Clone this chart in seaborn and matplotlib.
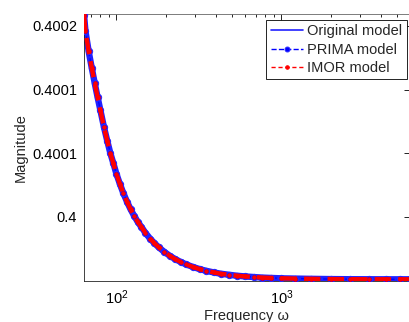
import matplotlib
matplotlib.use("Agg")
import matplotlib.pyplot as plt
import matplotlib.ticker as mticker
import seaborn as sns
import pandas as pd

# ---- data ----
frequency = [63.7, 65, 68, 71, 74, 77, 80, 84, 88, 92, 96, 100, 105, 110, 116, 122,
             128, 135, 142, 150, 160, 170, 180, 195, 210, 225, 245, 265, 290, 320,
             350, 390, 430, 480, 540, 600, 680, 760, 860, 1000, 1200, 1500, 2000,
             2600, 3400, 4300, 5200, 6000]
magnitude_original = [0.400209, 0.400196, 0.400180, 0.400167, 0.400155, 0.400144,
                      0.400134, 0.400121, 0.400110, 0.400100, 0.400092, 0.400084,
                      0.400076, 0.400069, 0.400062, 0.400056, 0.400051, 0.400046,
                      0.400042, 0.4000375, 0.400033, 0.4000294, 0.4000263,
                      0.4000226, 0.4000196, 0.4000172, 0.4000147, 0.4000127,
                      0.4000108, 0.4000090, 0.4000077, 0.4000064, 0.4000054,
                      0.4000046, 0.4000038, 0.4000033, 0.4000028, 0.4000024,
                      0.4000021, 0.4000018, 0.4000016, 0.4000014, 0.4000012,
                      0.4000011, 0.40000105, 0.40000103, 0.40000102, 0.40000102]
magnitude_prima = list(magnitude_original)
magnitude_imor = list(magnitude_original)
series_names = ["Original model", "PRIMA model", "IMOR model"]
ytick_values = [0.40005, 0.40010, 0.40015, 0.40020]
ytick_labels = ["0.4", "0.4001", "0.4001", "0.4002"]

sns.set_style("white")
plt.rcParams["font.family"] = ["Liberation Sans", "DejaVu Sans"]
plt.rcParams["mathtext.fontset"] = "custom"
plt.rcParams["mathtext.rm"] = "Liberation Sans"
plt.rcParams["mathtext.it"] = "Liberation Sans:italic"
plt.rcParams["font.size"] = 10.5

fig = plt.figure(figsize=(4.09, 3.22), dpi=100)
ax = fig.add_axes([84 / 409, 41 / 322, 326 / 409, 267 / 322])

df_o = pd.DataFrame({"f": frequency, "m": magnitude_original})
df_p = pd.DataFrame({"f": frequency, "m": magnitude_prima})
df_i = pd.DataFrame({"f": frequency, "m": magnitude_imor})

sns.lineplot(data=df_o, x="f", y="m", ax=ax, color="#2020ff", lw=4.6,
             label=series_names[0], solid_capstyle="round", zorder=2)
sns.lineplot(data=df_p, x="f", y="m", ax=ax, color="#0000ff", lw=1.0,
             linestyle="--", marker="o", markersize=4.5, markeredgecolor="#2a2aff",
             markerfacecolor="#0000ff", label=series_names[1], zorder=3)
sns.lineplot(data=df_i, x="f", y="m", ax=ax, color="#ff0000", lw=3.2,
             linestyle="--", marker="o", markersize=2.5, markeredgecolor="#ff0000",
             markerfacecolor="#ff0000", label=series_names[2], zorder=4,
             dashes=(8, 0.2))

ax.set_xscale("log")
ax.set_xlim(63.7, 6000)
ax.set_ylim(0.3999997, 0.4002094)
ax.set_yticks(ytick_values)
ax.set_yticklabels(ytick_labels)
ax.xaxis.set_minor_locator(mticker.LogLocator(base=10, subs=range(2, 10)))
ax.xaxis.set_minor_formatter(mticker.NullFormatter())

ax.tick_params(axis="both", which="both", direction="in", top=True, right=True,
               colors="black", labelsize=10.5)
ax.tick_params(axis="both", which="major", length=4, width=0.6, pad=5)
ax.tick_params(axis="x", which="minor", length=2.5, width=0.6)
for s in ax.spines.values():
    s.set_color("#222222")
    s.set_linewidth(0.6)
ax.spines["top"].set_color("#666666")

ax.set_xlabel("Frequency ω", fontsize=10.5, labelpad=2)
ax.set_ylabel("Magnitude", fontsize=10.5, labelpad=3)

leg = ax.legend(loc="upper right", bbox_to_anchor=(0.99, 0.978), borderaxespad=0,
                frameon=True, fancybox=False, edgecolor="black", framealpha=1,
                fontsize=10.5, handlelength=2.2, handletextpad=0.3,
                labelspacing=0.3, borderpad=0.3)
leg.get_frame().set_linewidth(0.6)
lines = leg.get_lines()
lines[0].set_linewidth(1.2)
lines[1].set_linewidth(1.0)
lines[1].set_markersize(3.5)
lines[2].set_linewidth(1.0)
lines[2].set_dashes((3, 2))
lines[2].set_markersize(2.5)

fig.savefig("out.png", dpi=100)
